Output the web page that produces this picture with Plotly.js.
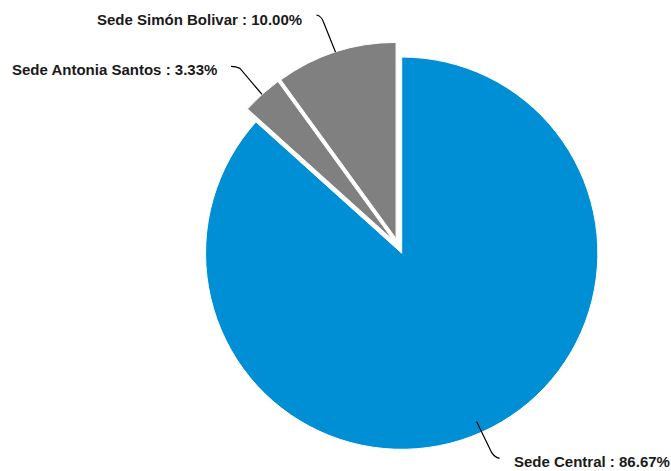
<!DOCTYPE html>
<html>
<head>
<meta charset="utf-8">
<script src="https://cdn.plot.ly/plotly-3.0.1.min.js"></script>
<style>html,body{margin:0;padding:0;background:#fff;}#chart{width:671px;height:471px;}</style>
</head>
<body>
<div id="chart"></div>
<script>
// ---- data ----
const labels = ['Sede Central', 'Sede Antonia Santos', 'Sede Simón Bolivar'];
const counts = [26, 1, 3];

// ---- style ----
const colors = ['#008FD5', '#808080', '#808080'];
const pullAmt = 0.04;
const W = 671, H = 471;
const M = {l: 130, r: 4, t: 42, b: 21};
const pw = W - M.l - M.r, ph = H - M.t - M.b;
const cx = M.l + pw / 2, cy = M.t + ph / 2;
const R = Math.min(pw, ph) / (2 + 2 * pullAmt);
// leader line styling per slice: inset of start, elbow, control, end offsets, text offset & anchor
const leader = [
  {inset: 12, elbow: [15, 31], ctrl: [18, 36], end: [23, 37], txt: [12, 3.5], anchor: 'left'},
  {inset: 0, elbow: [-22, -26], ctrl: [-26, -28], end: [-31, -28], txt: [-12, 3], anchor: 'right'},
  {inset: 0, elbow: [-12, -30], ctrl: [-14, -36], end: [-19, -37], txt: [-12, 5], anchor: 'right'}
];

const total = counts.reduce((a, b) => a + b, 0);
const px2x = p => (p - M.l) / pw;
const py2y = p => 1 - (p - M.t) / ph;

const shapes = [], annotations = [];
let cum = 0;
counts.forEach((v, i) => {
  const frac = v / total;
  const mid = (cum + frac / 2) * 2 * Math.PI;
  cum += frac;
  const dx = Math.sin(mid), dy = -Math.cos(mid);
  const L = leader[i];
  const rr = R * (1 + pullAmt) - L.inset;
  const sx = cx + rr * dx, sy = cy + rr * dy;
  const e = [sx + L.elbow[0], sy + L.elbow[1]];
  const c = [sx + L.ctrl[0], sy + L.ctrl[1]];
  const en = [sx + L.end[0], sy + L.end[1]];
  const path = `M ${px2x(sx)} ${py2y(sy)} L ${px2x(e[0])} ${py2y(e[1])} Q ${px2x(c[0])} ${py2y(c[1])} ${px2x(en[0])} ${py2y(en[1])}`;
  shapes.push({type: 'path', xref: 'paper', yref: 'paper', path: path, line: {color: '#000', width: 1.2}});
  const pct = (frac * 100).toFixed(2) + '%';
  annotations.push({
    xref: 'paper', yref: 'paper',
    x: px2x(en[0] + L.txt[0]), y: py2y(en[1] + L.txt[1]),
    xanchor: L.anchor, yanchor: 'middle', showarrow: false,
    text: '<b>' + labels[i] + ' : ' + pct + '</b>',
    font: {family: '"Liberation Sans", Arial, sans-serif', size: 15, color: '#1a1a1a'}
  });
});

Plotly.newPlot('chart', [{
  type: 'pie',
  labels: labels,
  values: counts,
  sort: false,
  direction: 'clockwise',
  rotation: 0,
  pull: counts.map(() => pullAmt),
  marker: {colors: colors, line: {color: '#ffffff', width: 1}},
  textinfo: 'none',
  hoverinfo: 'none',
  showlegend: false
}], {
  width: W, height: H,
  margin: M,
  paper_bgcolor: '#ffffff',
  plot_bgcolor: '#ffffff',
  shapes: shapes,
  annotations: annotations,
  showlegend: false
}, {staticPlot: true});
</script>
</body>
</html>
